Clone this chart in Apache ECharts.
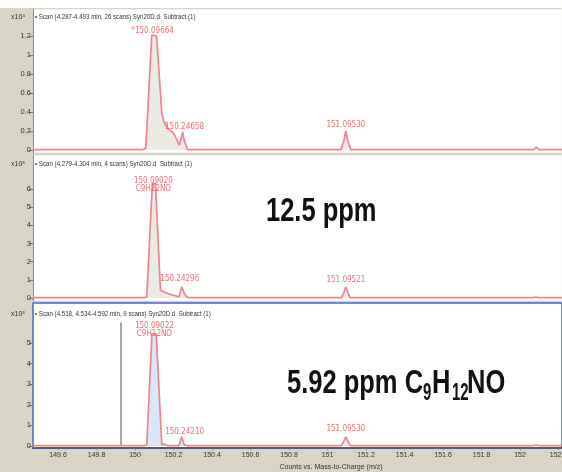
<!DOCTYPE html>
<html><head><meta charset="utf-8">
<script src="https://cdn.jsdelivr.net/npm/echarts@6/dist/echarts.min.js"></script>
<style>html,body{margin:0;padding:0;background:#fff}#c{width:562px;height:472px}</style>
</head><body><div id="c"></div>
<script>
// ---- data ----
const xTicks = [149.6, 149.8, 150, 150.2, 150.4, 150.6, 150.8, 151, 151.2, 151.4, 151.6, 151.8, 152, 152.2];
const yTicks1 = [0, 0.2, 0.4, 0.6, 0.8, 1, 1.2];
const yTicks2 = [0, 1, 2, 3, 4, 5, 6];
const yTicks3 = [0, 1, 2, 3, 4, 5];

const spec1Mz  = [149.470, 150.040, 150.056, 150.087, 150.097, 150.112, 150.139, 150.150, 150.165, 150.180, 150.199, 150.215, 150.230, 150.240, 150.247, 150.256, 150.272, 150.395, 150.405, 150.415, 151.070, 151.085, 151.095, 151.105, 151.120, 151.238, 151.248, 151.258, 152.070, 152.085, 152.100, 152.218];
const spec1Int = [0.004, 0.004, 0.02, 1.21, 1.23, 1.20, 0.39, 0.30, 0.245, 0.21, 0.18, 0.12, 0.05, 0.12, 0.19, 0.10, 0.004, 0.004, 0.015, 0.004, 0.004, 0.10, 0.20, 0.10, 0.004, 0.004, 0.015, 0.004, 0.004, 0.03, 0.004, 0.004];

const spec2Mz  = [149.470, 150.045, 150.061, 150.090, 150.098, 150.106, 150.132, 150.150, 150.167, 150.200, 150.228, 150.243, 150.258, 150.272, 150.388, 150.398, 150.408, 151.072, 151.085, 151.095, 151.105, 151.118, 151.237, 151.247, 151.257, 152.070, 152.082, 152.094, 152.218];
const spec2Int = [0.02, 0.02, 0.05, 6.3, 6.4, 6.3, 0.44, 0.33, 0.26, 0.15, 0.07, 0.62, 0.2, 0.02, 0.02, 0.06, 0.02, 0.02, 0.3, 0.62, 0.3, 0.02, 0.02, 0.05, 0.02, 0.02, 0.05, 0.02, 0.02];

const spec3Mz  = [149.470, 150.045, 150.061, 150.088, 150.097, 150.110, 150.139, 150.150, 150.160, 150.170, 150.228, 150.242, 150.256, 150.270, 151.072, 151.085, 151.095, 151.105, 151.118, 151.240, 151.250, 151.260, 152.072, 152.084, 152.096, 152.218];
const spec3Int = [0.02, 0.02, 0.05, 5.45, 5.5, 5.45, 0.05, 0.1, 0.04, 0.02, 0.02, 0.45, 0.05, 0.02, 0.02, 0.25, 0.44, 0.25, 0.02, 0.02, 0.04, 0.02, 0.02, 0.05, 0.02, 0.02];

const peak1Mz = [150.0966, 150.2466, 151.0953];
const peak1Int = [1.23, 0.19, 0.20];
const peak1Text = ['*150.09664', '150.24658', '151.09530'];
const peak2Mz = [150.0902, 150.2430, 151.0952];
const peak2Int = [6.4, 0.62, 0.62];
const peak2Text = ['150.09020\nC9H12NO', '150.24296', '151.09521'];
const peak3Mz = [150.0902, 150.2421, 151.0953];
const peak3Int = [5.5, 0.45, 0.44];
const peak3Text = ['150.09022\nC9H12NO', '150.24210', '151.09530'];

const cursorMz = [149.927, 149.927];
const cursorInt = [0, 6.0];

const headers = [
  '• Scan (4.287-4.493 min, 26 scans) Syn20D.d  Subtract (1)',
  '• Scan (4.279-4.304 min, 4 scans) Syn20D.d  Subtract (1)',
  '• Scan (4.518, 4.534-4.592 min, 9 scans) Syn20D.d  Subtract (1)'
];
const scales = ['x10⁴', 'x10⁵', 'x10⁵'];
const xTitle = 'Counts vs. Mass-to-Charge (m/z)';

// ---- styling / layout ----
const X_MIN = 149.470, X_MAX = 152.218;
const LINE = '#f0838c';
const LBL = '#f04652';
const smallFont = "'Liberation Sans Narrow','DejaVu Sans Condensed','Liberation Sans',sans-serif";
const zip = (a, b) => a.map((v, i) => [v, b[i]]);
const labelOffsets = [[[-1, -2], [2, -5], [0, -6]], [[1, 3], [-2, -8], [0, -7]], [[2, -3], [3, -5], [0, -8]]];

const grids = [
  {left: 33, top: 9, width: 529, height: 144, show: true, backgroundColor: '#fff', borderColor: '#d0d0c8', borderWidth: 0.5, outerBoundsMode: 'none', containLabel: false},
  {left: 33, top: 155, width: 529, height: 146, show: true, backgroundColor: '#fff', borderColor: '#d0d0c8', borderWidth: 0.5, outerBoundsMode: 'none', containLabel: false},
  {left: 33, top: 303, width: 529, height: 145, show: true, backgroundColor: '#fff', borderColor: '#4a68c6', borderWidth: 1.5, outerBoundsMode: 'none', containLabel: false}
];
const yRanges = [[-0.0316, 1.4842], [-0.165, 7.87], [-0.097, 6.942]];
const yTicks = [yTicks1, yTicks2, yTicks3];

const xAxes = [0, 1, 2].map(i => ({
  type: 'value', gridIndex: i, min: X_MIN, max: X_MAX,
  splitLine: {show: false},
  axisLine: {show: i === 2, onZero: false, lineStyle: {color: '#525d7a', width: 2}},
  axisTick: {show: i === 2, customValues: xTicks, length: 2, lineStyle: {color: '#777'}},
  axisLabel: {show: i === 2, customValues: xTicks, fontSize: 7, color: '#333', margin: 4, fontFamily: 'Liberation Sans'}
}));
const yAxes = [0, 1, 2].map(i => ({
  type: 'value', gridIndex: i, min: yRanges[i][0], max: yRanges[i][1],
  splitLine: {show: false},
  axisLine: {show: true, lineStyle: {color: '#8c8c8c', width: 1}},
  axisTick: {show: true, customValues: yTicks[i], length: 4, lineStyle: {color: '#777'}},
  axisLabel: {customValues: yTicks[i], fontSize: 7.5, color: '#333', margin: 2, fontFamily: 'Liberation Sans'}
}));

const specs = [zip(spec1Mz, spec1Int), zip(spec2Mz, spec2Int), zip(spec3Mz, spec3Int)];
const peaks = [[peak1Mz, peak1Int, peak1Text], [peak2Mz, peak2Int, peak2Text], [peak3Mz, peak3Int, peak3Text]];
const fills = ['rgba(200,204,184,0.55)', 'rgba(200,204,184,0.55)', 'rgba(168,196,240,0.6)'];

const series = [];
[0, 1, 2].forEach(i => {
  series.push({
    type: 'line', xAxisIndex: i, yAxisIndex: i, data: specs[i],
    showSymbol: false, symbol: 'none', silent: true, z: 3,
    lineStyle: {color: LINE, width: 1.7},
    areaStyle: {color: fills[i]}
  });
  const [mz, it, tx] = peaks[i];
  series.push({
    type: 'scatter', xAxisIndex: i, yAxisIndex: i, symbolSize: 1, z: 5,
    itemStyle: {color: 'rgba(0,0,0,0)'},
    data: mz.map((m, k) => ({
      value: [m, it[k]],
      label: {show: true, position: 'inside', offset: labelOffsets[i][k], formatter: tx[k],
              color: LBL, fontSize: 8, lineHeight: 8.5, fontFamily: smallFont}
    }))
  });
});
series.push({
  type: 'line', xAxisIndex: 2, yAxisIndex: 2, data: zip(cursorMz, cursorInt),
  showSymbol: false, symbol: 'none', silent: true, z: 2,
  lineStyle: {color: '#8a8a8a', width: 1.5}
});

const headerY = [17, 164, 314];
const graphic = [
  {type: 'rect', shape: {x: 0, y: 0, width: 562, height: 8}, style: {fill: '#fff'}, z: -1},
];
[0, 1, 2].forEach(i => {
  graphic.push({type: 'text', x: 11, y: headerY[i], z: 10,
    style: {text: scales[i], fontSize: 7, fontFamily: 'Liberation Sans', fill: '#333', align: 'left', verticalAlign: 'middle', textAlign: 'left', textVerticalAlign: 'middle'}});
  graphic.push({type: 'text', x: 35, y: headerY[i], scaleX: 0.82, z: 10,
    style: {text: headers[i], fontSize: 7.5, fontFamily: 'Liberation Sans', fill: '#333', align: 'left', verticalAlign: 'middle', textAlign: 'left', textVerticalAlign: 'middle'}});
});
const bigStyle = (t, fs) => ({text: t, fontSize: fs, fontWeight: 'bold', fontFamily: 'Liberation Sans', fill: '#111',
  align: 'left', verticalAlign: 'middle', textAlign: 'left', textVerticalAlign: 'middle'});
graphic.push({type: 'text', x: 266, y: 212, scaleX: 0.75, z: 10, style: bigStyle('12.5 ppm', 34)});
graphic.push({type: 'text', x: 287, y: 384, scaleX: 0.75, z: 10, style: bigStyle('5.92 ppm C', 34)});
graphic.push({type: 'text', x: 423, y: 394, scaleX: 0.65, z: 10, style: bigStyle('9', 23)});
graphic.push({type: 'text', x: 432, y: 384, scaleX: 0.75, z: 10, style: bigStyle('H', 34)});
graphic.push({type: 'text', x: 452, y: 394, scaleX: 0.65, z: 10, style: bigStyle('12', 23)});
graphic.push({type: 'text', x: 467, y: 384, scaleX: 0.75, z: 10, style: bigStyle('NO', 34)});
graphic.push({type: 'text', x: 331, y: 467, z: 10,
  style: {text: xTitle, fontSize: 7, fontFamily: 'Liberation Sans', fill: '#333', align: 'center', verticalAlign: 'middle', textAlign: 'center', textVerticalAlign: 'middle'}});

const chart = echarts.init(document.getElementById('c'), null, {renderer: 'canvas'});
chart.setOption({
  animation: false,
  backgroundColor: '#d8d5c4',
  grid: grids, xAxis: xAxes, yAxis: yAxes, series: series, graphic: graphic
});
</script></body></html>
